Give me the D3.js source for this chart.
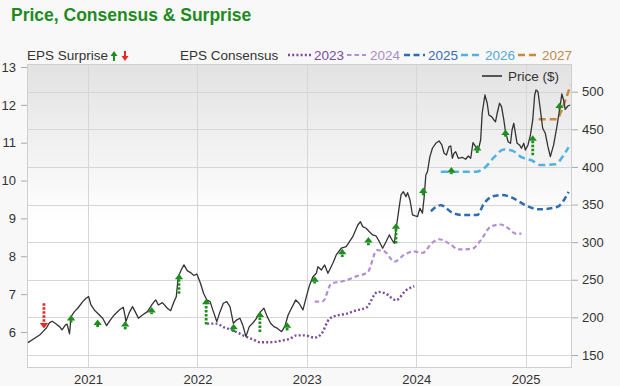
<!DOCTYPE html>
<html><head><meta charset="utf-8">
<script src="https://cdn.jsdelivr.net/npm/d3@7"></script>
<style>body{margin:0;background:#f8f8f8;font-family:"Liberation Sans",Arial,sans-serif}</style>
</head><body><svg id="c" width="620" height="386"></svg>
<script>
// ---------- DATA ----------
const yearTicks = [2021, 2022, 2023, 2024, 2025];
const epsTicks = [6, 7, 8, 9, 10, 11, 12, 13];
const priceTicks = [150, 200, 250, 300, 350, 400, 450, 500];

const priceYear = [2020.451,2020.512,2020.558,2020.588,2020.618,2020.649,2020.672,2020.709,2020.740,2020.763,2020.794,2020.809,2020.831,2020.845,2020.876,2020.906,2020.952,2020.982,2021.006,2021.027,2021.058,2021.088,2021.134,2021.170,2021.200,2021.240,2021.286,2021.322,2021.340,2021.346,2021.377,2021.407,2021.431,2021.461,2021.498,2021.543,2021.589,2021.619,2021.643,2021.680,2021.725,2021.755,2021.786,2021.807,2021.825,2021.855,2021.877,2021.907,2021.937,2021.968,2021.995,2022.028,2022.056,2022.086,2022.116,2022.146,2022.177,2022.207,2022.237,2022.268,2022.298,2022.328,2022.359,2022.389,2022.414,2022.444,2022.474,2022.505,2022.541,2022.578,2022.608,2022.638,2022.669,2022.699,2022.729,2022.769,2022.799,2022.829,2022.860,2022.899,2022.929,2022.965,2022.996,2023.026,2023.056,2023.087,2023.102,2023.133,2023.163,2023.193,2023.238,2023.269,2023.315,2023.360,2023.390,2023.420,2023.466,2023.490,2023.511,2023.542,2023.572,2023.602,2023.633,2023.663,2023.693,2023.724,2023.754,2023.779,2023.800,2023.815,2023.845,2023.861,2023.882,2023.906,2023.921,2023.943,2023.966,2023.991,2024.012,2024.034,2024.057,2024.073,2024.088,2024.103,2024.125,2024.148,2024.179,2024.209,2024.234,2024.255,2024.276,2024.300,2024.316,2024.330,2024.346,2024.361,2024.385,2024.421,2024.452,2024.476,2024.498,2024.519,2024.543,2024.567,2024.589,2024.603,2024.628,2024.649,2024.664,2024.689,2024.710,2024.725,2024.740,2024.762,2024.780,2024.801,2024.816,2024.840,2024.862,2024.876,2024.892,2024.907,2024.922,2024.944,2024.962,2024.983,2024.998,2025.022,2025.044,2025.065,2025.083,2025.095,2025.113,2025.135,2025.156,2025.180,2025.204,2025.226,2025.256,2025.286,2025.317,2025.331,2025.347,2025.362,2025.386,2025.408];
const priceValue = [166.4,172.3,176.6,181,185.6,193,194.9,191.3,187.7,183.3,190,190.9,178,201,207.6,212.1,220.9,225.4,227.6,216.5,209.9,205.5,198.8,189,195.7,203.2,209.9,213.5,201,194.3,206.3,214.3,207.6,198.8,203.2,207.6,217.9,223.2,216.5,219.6,212.1,208.9,220.9,227.6,254.1,264,269.7,262.1,259.5,255.7,257.7,245.4,232.1,223.2,220.9,207.6,194.3,207.6,218.8,220.9,214.3,192.2,196.6,198.8,190,174.4,187.7,192.2,198.8,207.6,212.1,201,192.2,187.7,185.6,181,187.7,203.2,212.1,223.2,218.8,209.9,227.6,243.1,254.1,258.7,267.4,263,269.7,258.7,271.9,283,291.9,294,300.6,307.3,322.8,327.2,320.6,318.5,313.9,309.6,308.2,300.6,291.9,300.6,309.6,302.9,298.5,316.2,347.2,362.7,367.1,360.5,365.8,356.1,336.1,334.8,333.9,345,338.4,360.5,389.3,393.7,413.6,424.8,431.4,434.5,429.2,418.1,415.9,426.9,427.8,411.5,418.1,420.3,411.5,412.8,410.2,414.5,411.5,432.2,426.9,422.5,435.8,471.3,495.6,484.6,469,466.8,462.4,460.1,471.3,484.6,480.1,462.4,446.8,433.5,431.4,449.1,458,444.7,431.4,429.2,424.8,431.4,422.5,429.2,442.5,462.4,495.6,502.3,500,475.7,451.4,444.7,426.9,413.6,429.2,453.5,482.3,496.9,489,476.6,481,482.3];

const c2023Year = [2022.089,2022.177,2022.237,2022.328,2022.419,2022.510,2022.571,2022.662,2022.783,2022.844,2022.905,2022.981,2023.072,2023.133,2023.208,2023.281,2023.360,2023.451,2023.542,2023.648,2023.724,2023.815,2023.906,2023.982];
const c2023Eps = [6.22,6.22,6.13,6.04,5.91,5.80,5.73,5.73,5.78,5.82,5.91,5.91,5.85,5.95,6.35,6.44,6.48,6.57,6.64,7.06,7.01,6.84,7.10,7.21];
const c2024Year = [2023.072,2023.147,2023.224,2023.329,2023.451,2023.557,2023.641,2023.709,2023.800,2023.891,2023.973,2024.057,2024.148,2024.209,2024.300,2024.391,2024.512,2024.589,2024.680,2024.771,2024.846,2024.907,2024.962];
const c2024Eps = [6.80,6.81,7.28,7.34,7.47,7.58,8.16,8.13,7.86,8.04,8.13,8.09,8.36,8.45,8.34,8.18,8.20,8.42,8.78,8.84,8.73,8.60,8.60];
const c2025Year = [2024.134,2024.225,2024.330,2024.421,2024.558,2024.619,2024.694,2024.785,2024.876,2024.998,2025.119,2025.286,2025.393];
const c2025Eps = [9.19,9.35,9.15,9.09,9.09,9.39,9.58,9.62,9.55,9.35,9.24,9.30,9.70];
const c2026Year = [2024.225,2024.373,2024.543,2024.634,2024.710,2024.801,2024.876,2024.967,2025.058,2025.135,2025.271,2025.347,2025.392];
const c2026Eps = [10.23,10.23,10.23,10.36,10.61,10.82,10.79,10.61,10.53,10.41,10.43,10.67,10.88];
const c2027Year = [2025.119,2025.286,2025.329,2025.365,2025.410];
const c2027Eps = [11.62,11.62,11.86,12.13,12.52];

const surpriseYear = [2020.597,2020.845,2021.088,2021.340,2021.582,2021.832,2022.080,2022.331,2022.571,2022.820,2023.072,2023.324,2023.563,2023.815,2024.064,2024.321,2024.558,2024.816,2025.065,2025.310];
const surpriseFrom = [6.76,6.25,6.13,6.07,6.47,7.01,6.20,6.00,6.00,6.04,7.28,7.98,8.29,8.34,9.61,10.17,10.73,11.16,10.67,11.88];
const surpriseTo   = [6.09,6.45,6.33,6.29,6.66,7.54,6.88,6.22,6.54,6.26,7.47,8.20,8.51,8.87,9.82,10.36,10.94,11.35,11.20,12.06];

const seriesNames = ["2023","2024","2025","2026","2027"];
// ---------- STYLE ----------
const L = 27, R = 572, T = 64, B = 368;
const green = "#1d8f1d", red = "#ee2424";
const consStyle = [
  {color:"#7b4c9c", text:"#7b4c9c", dash:"2 2.2", w:2.4},
  {color:"#b48dd2", text:"#ab8cc6", dash:"4.5 3", w:2.2},
  {color:"#2f6cb4", text:"#3d6cae", dash:"6 3.5", w:2.5},
  {color:"#4fb2e0", text:"#55a9d2", dash:"7 4", w:2.5},
  {color:"#c68a3f", text:"#b98a4f", dash:"7 4", w:2.5}
];

const svg = d3.select("#c");
const x = d3.scaleLinear().domain([2020.4424, 2025.424]).range([L, R]);
const yR = d3.scaleLinear().domain([132.7, 536.8]).range([B, T]);
const yL = d3.scaleLinear().domain([5.049, 13.079]).range([B, T]);

const defs = svg.append("defs");
const grad = defs.append("linearGradient").attr("id","bg").attr("x1",0).attr("y1",0).attr("x2",0).attr("y2",1);
grad.append("stop").attr("offset","0%").attr("stop-color","#e2e2e2");
grad.append("stop").attr("offset","52%").attr("stop-color","#ffffff");
grad.append("stop").attr("offset","100%").attr("stop-color","#ffffff");
defs.append("clipPath").attr("id","clip").append("rect").attr("x",L).attr("y",T).attr("width",R-L).attr("height",B-T);

svg.append("rect").attr("x",L).attr("y",T).attr("width",R-L).attr("height",B-T).attr("fill","url(#bg)");

// grid
svg.append("g").selectAll("line").data(priceTicks).join("line")
  .attr("x1",L).attr("x2",R).attr("y1",d=>Math.round(yR(d))+0.5).attr("y2",d=>Math.round(yR(d))+0.5)
  .attr("stroke","#d6d6d6").attr("stroke-width",1);
svg.append("g").selectAll("line").data(yearTicks).join("line")
  .attr("y1",T).attr("y2",B).attr("x1",d=>Math.round(x(d))+0.5).attr("x2",d=>Math.round(x(d))+0.5)
  .attr("stroke","#d6d6d6").attr("stroke-width",1);
svg.append("rect").attr("x",L+0.5).attr("y",T+0.5).attr("width",R-L-1).attr("height",B-T-1)
  .attr("fill","none").attr("stroke","#cfcfcf");

// axes
function styleAxis(g){
  g.select(".domain").remove();
  g.selectAll(".tick line").attr("stroke","#aaa");
  g.selectAll(".tick text").attr("fill","#333").style("font-size","13px").style("font-family","'Liberation Sans',Arial,sans-serif");
}
svg.append("g").attr("transform",`translate(${L},0)`)
  .call(d3.axisLeft(yL).tickValues(epsTicks).tickSize(6).tickPadding(5).tickFormat(d3.format("d"))).call(styleAxis);
svg.append("g").attr("transform",`translate(${R},0)`)
  .call(d3.axisRight(yR).tickValues(priceTicks).tickSize(6).tickPadding(4).tickFormat(d3.format("d"))).call(styleAxis);
svg.append("g").attr("transform",`translate(0,${B})`)
  .call(d3.axisBottom(x).tickValues(yearTicks).tickSize(0).tickPadding(7).tickFormat(d3.format("d"))).call(styleAxis);

const plot = svg.append("g").attr("clip-path","url(#clip)");

// consensus lines
const cons = [[c2023Year,c2023Eps],[c2024Year,c2024Eps],[c2025Year,c2025Eps],[c2026Year,c2026Eps],[c2027Year,c2027Eps]];
const lineL = d3.line().x(d=>x(d[0])).y(d=>yL(d[1])).curve(d3.curveMonotoneX);
cons.forEach((s,i)=>{
  const pts = s[0].map((yv,j)=>[yv,s[1][j]]);
  plot.append("path").attr("d",lineL(pts)).attr("fill","none")
    .attr("stroke",consStyle[i].color).attr("stroke-width",consStyle[i].w)
    .attr("stroke-dasharray",consStyle[i].dash);
});

// price line
const pricePts = priceYear.map((yv,j)=>[yv,priceValue[j]]);
plot.append("path").attr("d",d3.line().x(d=>x(d[0])).y(d=>yR(d[1]))(pricePts))
  .attr("fill","none").attr("stroke","#333").attr("stroke-width",1.3).attr("stroke-linejoin","round");

// surprise arrows
function arrow(g, px, y1, y2, color, stemDash, hh, hw, sw){
  const dir = y2 < y1 ? 1 : -1; // 1 => pointing up
  g.append("line").attr("x1",px).attr("x2",px).attr("y1",y1).attr("y2",y2+dir*hh)
    .attr("stroke",color).attr("stroke-width",sw).attr("stroke-dasharray",stemDash||null);
  g.append("path").attr("d",`M${px},${y2}L${px-hw},${y2+dir*hh}L${px+hw},${y2+dir*hh}Z`).attr("fill",color);
}
surpriseYear.forEach((yv,i)=>{
  const up = surpriseTo[i] >= surpriseFrom[i];
  arrow(plot, x(yv), yL(surpriseFrom[i]), yL(surpriseTo[i]), up?green:red, "2.5 1.5", 5.5, 4.2, 2.8);
});

// title
svg.append("text").attr("x",11).attr("y",21).text("Price, Consensus & Surprise")
  .attr("fill","#1f8a1f").style("font-weight","bold").style("font-size","17.5px");

// legend
const lg = svg.append("g").style("font-size","13.5px");
lg.append("text").attr("x",27).attr("y",60).attr("fill","#333").text("EPS Surprise");
arrow(lg, 114, 61, 51, green, null, 5, 3.5, 2);
arrow(lg, 125, 51, 61, red, null, 5, 3.5, 2);
lg.append("text").attr("x",180).attr("y",60).attr("fill","#333").text("EPS Consensus");
const legX = [[288,312,314],[347,366,370],[404,425,428],[461,482,485],[518,538,542]];
seriesNames.forEach((n,i)=>{
  lg.append("line").attr("x1",legX[i][0]).attr("x2",legX[i][1]).attr("y1",55).attr("y2",55)
    .attr("stroke",consStyle[i].color).attr("stroke-width",consStyle[i].w)
    .attr("stroke-dasharray",consStyle[i].dash);
  lg.append("text").attr("x",legX[i][2]).attr("y",60).attr("fill",consStyle[i].text).text(n);
});
lg.append("line").attr("x1",482).attr("x2",502).attr("y1",76).attr("y2",76).attr("stroke","#555").attr("stroke-width",2);
lg.append("text").attr("x",508).attr("y",81).attr("fill","#333").text("Price ($)");
</script></body></html>
